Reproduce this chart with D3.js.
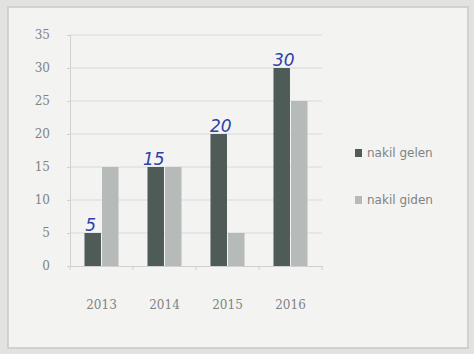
<!DOCTYPE html>
<html>
<head>
<meta charset="utf-8">
<script src="https://cdn.jsdelivr.net/npm/d3@7"></script>
<style>
  body { margin: 0; background: #e4e4e2; }
  svg { display: block; }
</style>
</head>
<body>
<svg id="chart" width="474" height="354"></svg>
<script>
// data
var years = ["2013", "2014", "2015", "2016"];
var seriesNames = ["nakil gelen", "nakil giden"];
var gelen = [5, 15, 20, 30];
var giden = [15, 15, 5, 25];
var yTicks = [0, 5, 10, 15, 20, 25, 30, 35];
var notes = [5, 15, 20, 30]; // handwritten numbers above the dark bars

var colors = ["#4f5b57", "#b6bbb9"];

var svg = d3.select("#chart");

// paper + chart frame
svg.append("rect")
    .attr("x", 0).attr("y", 0).attr("width", 474).attr("height", 354)
    .attr("fill", "#e2e2e0");
svg.append("rect")
    .attr("x", 8).attr("y", 7).attr("width", 460).attr("height", 341)
    .attr("fill", "#f3f3f2")
    .attr("stroke", "#c9c9c7")
    .attr("stroke-width", 1.5);

var plotLeft = 70, plotRight = 322, plotTop = 35, plotBottom = 266;

var x = d3.scaleBand()
    .domain(years)
    .range([plotLeft, plotRight])
    .paddingInner(0.46)
    .paddingOuter(0.23);

var x1 = d3.scaleBand()
    .domain(seriesNames)
    .range([0, x.bandwidth()])
    .paddingInner(0.06);

var y = d3.scaleLinear()
    .domain([0, 35])
    .range([plotBottom, plotTop]);

// gridlines
svg.append("g")
  .selectAll("line")
  .data(yTicks.slice(1))
  .join("line")
    .attr("x1", plotLeft).attr("x2", plotRight)
    .attr("y1", function(d) { return y(d); })
    .attr("y2", function(d) { return y(d); })
    .attr("stroke", "#d9dad9")
    .attr("stroke-width", 1.2);

// y axis
var yAxis = svg.append("g")
    .attr("transform", "translate(" + plotLeft + ",0)")
    .call(d3.axisLeft(y).tickValues(yTicks).tickSize(3).tickPadding(17));
yAxis.select(".domain").attr("stroke", "#cfd0cf");
yAxis.selectAll(".tick line").attr("stroke", "#cfd0cf");
yAxis.selectAll("text")
    .attr("fill", "#7f8382")
    .style("font-family", "'DejaVu Serif', serif")
    .style("font-size", "12px");

// x axis
var xAxis = svg.append("g")
    .attr("transform", "translate(0," + plotBottom + ")")
    .call(d3.axisBottom(x).tickSize(0).tickPadding(34));
xAxis.select(".domain").attr("stroke", "#cfd0cf").attr("stroke-width", 1.2);
xAxis.selectAll("text")
    .attr("fill", "#7f8382")
    .style("font-family", "'DejaVu Serif', serif")
    .style("font-size", "12px");

// category boundary ticks
svg.append("g")
  .selectAll("line")
  .data(d3.range(years.length + 1))
  .join("line")
    .attr("x1", function(i) { return plotLeft + i * x.step(); })
    .attr("x2", function(i) { return plotLeft + i * x.step(); })
    .attr("y1", plotBottom).attr("y2", plotBottom + 4)
    .attr("stroke", "#cfd0cf");

// bars
var rows = years.map(function(yr, i) {
  return { year: yr, values: [gelen[i], giden[i]] };
});

var groups = svg.append("g")
  .selectAll("g")
  .data(rows)
  .join("g")
    .attr("transform", function(d) { return "translate(" + x(d.year) + ",0)"; });

groups.selectAll("rect")
  .data(function(d) {
    return d.values.map(function(v, k) { return { name: seriesNames[k], value: v, k: k }; });
  })
  .join("rect")
    .attr("x", function(d) { return x1(d.name); })
    .attr("y", function(d) { return y(d.value); })
    .attr("width", x1.bandwidth())
    .attr("height", function(d) { return y(0) - y(d.value); })
    .attr("fill", function(d) { return colors[d.k]; });

// handwritten blue numbers
svg.append("g")
  .selectAll("text")
  .data(notes)
  .join("text")
    .attr("x", function(d, i) { return x(years[i]) + x1(seriesNames[0]) + x1.bandwidth() / 2 + (i > 1 ? 2 : -2); })
    .attr("y", function(d) { return y(d) - 2; })
    .attr("text-anchor", "middle")
    .attr("fill", "#2f3fa8")
    .style("font-family", "'DejaVu Sans', sans-serif")
    .style("font-style", "italic")
    .style("font-size", "17px")
    .text(function(d) { return d; });

// legend
var legend = svg.append("g")
  .selectAll("g")
  .data(seriesNames)
  .join("g")
    .attr("transform", function(d, i) { return "translate(355," + (153 + i * 47) + ")"; });

legend.append("rect")
    .attr("x", 0).attr("y", -4)
    .attr("width", 7).attr("height", 8)
    .attr("fill", function(d, i) { return colors[i]; });

legend.append("text")
    .attr("x", 12).attr("y", 4)
    .attr("fill", "#7f8382")
    .style("font-family", "'DejaVu Sans', sans-serif")
    .style("font-size", "12px")
    .text(function(d) { return d; });
</script>
</body>
</html>
